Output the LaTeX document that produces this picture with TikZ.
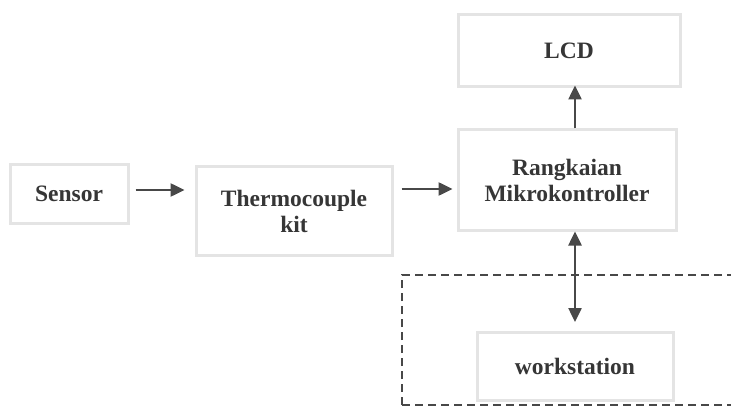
\documentclass[tikz,border=0pt]{standalone}
\usepackage{fontspec}
\setmainfont{Liberation Serif}
\usetikzlibrary{arrows.meta}
\definecolor{boxgray}{HTML}{E4E4E4}
\definecolor{txtgray}{HTML}{363636}
\definecolor{arrgray}{HTML}{484848}
\begin{document}
\begin{tikzpicture}[x=1pt,y=-1pt,
  blk/.style={draw=boxgray,line width=3pt,text=txtgray,font=\bfseries\fontsize{23.5}{26}\selectfont,align=center,inner sep=0pt},
  arr/.style={draw=arrgray,line width=2.5pt,-{Triangle[length=14pt,width=13pt]}},
  darr/.style={draw=arrgray,line width=2.5pt,{Triangle[length=14pt,width=13pt]}-{Triangle[length=14pt,width=13pt]}}]
\useasboundingbox (0,0) rectangle (731,409);
\clip (0,0) rectangle (731,409);
\fill[white] (0,0) rectangle (731,409);
\node[blk,minimum width=118pt,minimum height=58pt] (sensor) at (69,194) {Sensor};
\node[blk,minimum width=196pt,minimum height=88pt] (thermo) at (294,211) {Thermocouple\\kit};
\node[blk,minimum width=218pt,minimum height=100pt] (mikro) at (567,180) {Rangkaian\\Mikrokontroller};
\node[blk,minimum width=222pt,minimum height=72pt] (lcd) at (569,51) {LCD};
\node[blk,minimum width=196pt,minimum height=68pt] (ws) at (575,366) {workstation};
\draw[arrgray,line width=1.5pt,dash pattern=on 8pt off 5pt] (402,405) -- (402,275) -- (740,275);
\draw[arrgray,line width=1.5pt,dash pattern=on 8pt off 5pt] (402,405) -- (740,405);
\coordinate (c1) at (0,190);
\coordinate (c2) at (0,189);
\draw[arr] ([xshift=6pt]sensor.east|-c1) -- ([xshift=-10pt]thermo.west|-c1);
\draw[arr] ([xshift=8pt]thermo.east|-c2) -- ([xshift=-4pt]mikro.west|-c2);
\draw[arr] (mikro.north-|575,0) -- ([yshift=3pt]lcd.south-|575,0);
\draw[darr] (mikro.south-|575,0) -- (575,322);
\end{tikzpicture}
\end{document}
